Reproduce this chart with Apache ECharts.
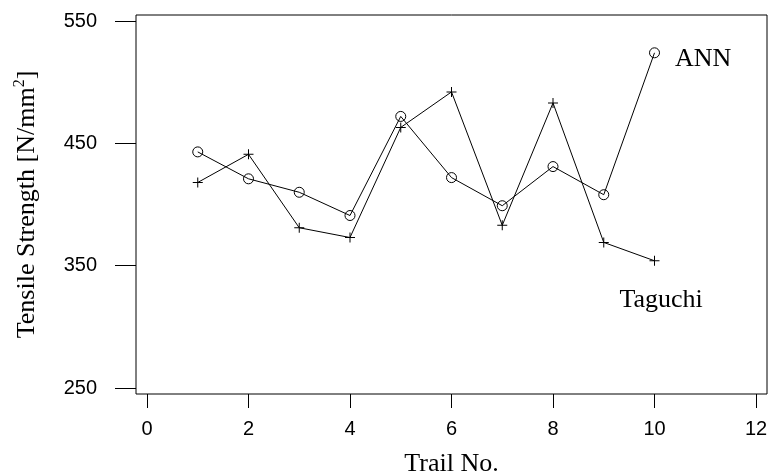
<!DOCTYPE html>
<html>
<head>
<meta charset="utf-8">
<script src="https://cdn.jsdelivr.net/npm/echarts@6/dist/echarts.min.js"></script>
<style>html,body{margin:0;padding:0;background:#fff}#c{width:769px;height:474px}</style>
</head>
<body>
<div id="c"></div>
<script>
const trials = [1, 2, 3, 4, 5, 6, 7, 8, 9, 10];
const ann = [443, 421, 410, 391, 472, 422, 399, 431, 408, 524];
const taguchi = [418, 441, 381, 373, 463, 492, 383, 483, 369, 354];
const xTicks = [0, 2, 4, 6, 8, 10, 12];
const yTicks = [250, 350, 450, 550];

const chart = echarts.init(document.getElementById('c'), null, {renderer: 'canvas'});
const plus = 'path://M4.5,0H5.5V4.5H10V5.5H5.5V10H4.5V5.5H0V4.5H4.5Z';
const tickFont = {fontFamily: 'Liberation Sans', fontSize: 20, color: '#000'};
const serif = 'Liberation Serif';

chart.setOption({
  animation: false,
  backgroundColor: '#fff',
  grid: {left: 136, right: 2, top: 15, bottom: 80, containLabel: false, outerBoundsMode: 'none',
    show: true, borderColor: '#000', borderWidth: 1, backgroundColor: 'transparent'},
  xAxis: {
    type: 'value', min: -0.2167, max: 12.2167,
    splitLine: {show: false},
    axisLine: {show: false, onZero: false},
    axisTick: {show: true, inside: false, length: 14, customValues: xTicks, lineStyle: {color: '#000', width: 1}},
    axisLabel: Object.assign({customValues: xTicks, margin: 25}, tickFont),
    name: 'Trail No.', nameLocation: 'middle', nameGap: 57,
    nameTextStyle: {fontFamily: serif, fontSize: 26, color: '#000'}
  },
  yAxis: {
    type: 'value', min: 245.1, max: 554.9,
    splitLine: {show: false},
    axisLine: {show: false, onZero: false},
    axisTick: {show: true, inside: false, length: 21, customValues: yTicks, lineStyle: {color: '#000', width: 1}},
    axisLabel: Object.assign({customValues: yTicks, margin: 39}, tickFont),
    name: 'Tensile Strength [N/mm{sup|2}]', nameLocation: 'middle', nameGap: 94,
    nameTextStyle: {fontFamily: serif, fontSize: 26, color: '#000',
      rich: {sup: {fontFamily: serif, fontSize: 16, color: '#000', verticalAlign: 'top', padding: [0, 0, 14, 0]}}}
  },
  series: [
    {
      name: 'ANN', type: 'line',
      data: trials.map((t, i) => [t, ann[i]]),
      symbol: 'circle', symbolSize: 10,
      lineStyle: {color: '#000', width: 1},
      itemStyle: {color: 'rgba(0,0,0,0)', borderColor: '#000', borderWidth: 1},
      markPoint: {
        symbol: 'circle', symbolSize: 1, itemStyle: {color: 'rgba(0,0,0,0)'},
        label: {show: true, position: 'inside', formatter: 'ANN', fontFamily: serif, fontSize: 26, color: '#000'},
        data: [{coord: [10.96, 518.5]}]
      }
    },
    {
      name: 'Taguchi', type: 'line',
      data: trials.map((t, i) => [t, taguchi[i]]),
      symbol: plus, symbolSize: 10,
      lineStyle: {color: '#000', width: 1},
      itemStyle: {color: '#000', borderWidth: 0},
      markPoint: {
        symbol: 'circle', symbolSize: 1, itemStyle: {color: 'rgba(0,0,0,0)'},
        label: {show: true, position: 'inside', formatter: 'Taguchi', fontFamily: serif, fontSize: 26, color: '#000'},
        data: [{coord: [10.13, 321.5]}]
      }
    }
  ]
});
</script>
</body>
</html>
